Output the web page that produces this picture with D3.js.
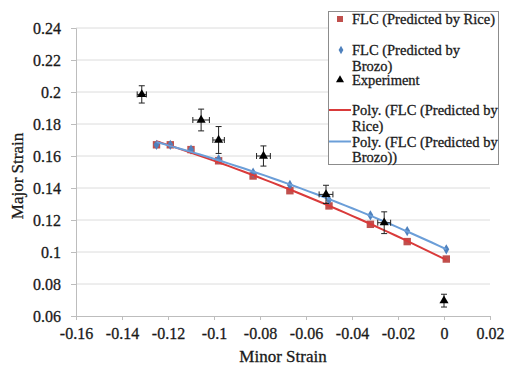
<!DOCTYPE html>
<html>
<head>
<meta charset="utf-8">
<script src="https://cdn.jsdelivr.net/npm/d3@7"></script>
<style>
  body { margin: 0; background: #fff; }
  svg text { font-family: "Liberation Serif", "Times New Roman", serif; fill: #1a1a1a; stroke: #1a1a1a; stroke-width: 0.3px; }
</style>
</head>
<body>
<div id="chart"></div>
<script>
// minor strain positions shared by both predicted curves
const flcMinor = [-0.125, -0.119, -0.110, -0.098, -0.083, -0.067, -0.050, -0.032, -0.016, 0.001];
const riceMajor = [0.167, 0.167, 0.164, 0.157, 0.1475, 0.1383, 0.1288, 0.1173, 0.1065, 0.0956];
const brozMajor = [0.167, 0.167, 0.164, 0.158, 0.1496, 0.1419, 0.1325, 0.1229, 0.1131, 0.1017];

// experiment with error bars
const expMinor = [-0.1314, -0.1056, -0.098, -0.0785, -0.0513, -0.026, 0.0];
const expMajor = [0.1985, 0.1825, 0.170, 0.160, 0.136, 0.1183, 0.0696];
const expMinorErr = [0.002, 0.0036, 0.0025, 0.003, 0.003, 0.0028, 0];
const expMajorErr = [0.0054, 0.0068, 0.0084, 0.0063, 0.0057, 0.0068, 0.004];

const xTicks = [-0.16, -0.14, -0.12, -0.1, -0.08, -0.06, -0.04, -0.02, 0, 0.02];
const yTicks = [0.06, 0.08, 0.1, 0.12, 0.14, 0.16, 0.18, 0.2, 0.22, 0.24];

const W = 507, H = 365;
const plot = {left: 76, right: 490, top: 28, bottom: 316};

const svg = d3.select("#chart").append("svg")
  .attr("width", W).attr("height", H);

const x = d3.scaleLinear().domain([-0.16, 0.02]).range([plot.left, plot.right]);
const y = d3.scaleLinear().domain([0.06, 0.24]).range([plot.bottom, plot.top]);

const fmt = d => d === 0 ? "0" : String(+d.toFixed(2));

// gridlines
svg.append("g").selectAll("line")
  .data(yTicks.filter(d => d > 0.06))
  .enter().append("line")
  .attr("x1", plot.left).attr("x2", plot.right)
  .attr("y1", d => y(d)).attr("y2", d => y(d))
  .attr("stroke", "#dcdcdc").attr("stroke-width", 1);

// axes
const xAxis = svg.append("g")
  .attr("transform", "translate(0," + plot.bottom + ")")
  .call(d3.axisBottom(x).tickValues(xTicks).tickFormat(fmt).tickSize(4).tickPadding(8));
const yAxis = svg.append("g")
  .attr("transform", "translate(" + plot.left + ",0)")
  .call(d3.axisLeft(y).tickValues(yTicks).tickFormat(fmt).tickSize(5).tickPadding(10));

[xAxis, yAxis].forEach(a => {
  a.attr("font-family", null).attr("font-size", null);
  a.select(".domain").attr("stroke", "#bdbdbd");
  a.selectAll(".tick line").attr("stroke", "#bdbdbd");
  a.selectAll(".tick text")
    .style("font-size", "16px")
    .attr("fill", "#1a1a1a");
});

// axis titles
svg.append("text")
  .attr("x", 283).attr("y", 362)
  .attr("text-anchor", "middle")
  .style("font-size", "17px")
  .text("Minor Strain");
svg.append("text")
  .attr("transform", "translate(23,176) rotate(-90)")
  .attr("text-anchor", "middle")
  .style("font-size", "17px")
  .text("Major Strain");

// quadratic least squares trendline (Excel "Poly." order 2)
function polyFit(xs, ys) {
  let s = [0, 0, 0, 0, 0], t = [0, 0, 0];
  xs.forEach((xv, i) => {
    for (let k = 0; k < 5; k++) s[k] += Math.pow(xv, k);
    for (let k = 0; k < 3; k++) t[k] += ys[i] * Math.pow(xv, k);
  });
  const A = [[s[0], s[1], s[2], t[0]], [s[1], s[2], s[3], t[1]], [s[2], s[3], s[4], t[2]]];
  for (let i = 0; i < 3; i++) {
    for (let j = i + 1; j < 3; j++) {
      const f = A[j][i] / A[i][i];
      for (let k = i; k < 4; k++) A[j][k] -= f * A[i][k];
    }
  }
  const c = [0, 0, 0];
  for (let i = 2; i >= 0; i--) {
    let v = A[i][3];
    for (let k = i + 1; k < 3; k++) v -= A[i][k] * c[k];
    c[i] = v / A[i][i];
  }
  return xv => c[0] + c[1] * xv + c[2] * xv * xv;
}

function trend(xs, ys) {
  const f = polyFit(xs, ys);
  const lo = d3.min(xs), hi = d3.max(xs);
  return d3.range(0, 41).map(i => {
    const xv = lo + (hi - lo) * i / 40;
    return [xv, f(xv)];
  });
}

const line = d3.line().x(d => x(d[0])).y(d => y(d[1]));

const riceColor = "#c0504d", brozColor = "#4f81bd";
const riceLine = "#d93a3a", brozLine = "#6b9ed8";

// markers
svg.append("g").selectAll("rect")
  .data(flcMinor.map((d, i) => [d, riceMajor[i]]))
  .enter().append("rect")
  .attr("x", d => x(d[0]) - 3.7).attr("y", d => y(d[1]) - 3.7)
  .attr("width", 7.4).attr("height", 7.4)
  .attr("fill", riceColor);

const diamond = d3.symbol().type(d3.symbolDiamond).size(30);
svg.append("g").selectAll("path")
  .data(flcMinor.map((d, i) => [d, brozMajor[i]]))
  .enter().append("path")
  .attr("d", diamond)
  .attr("transform", d => "translate(" + x(d[0]) + "," + y(d[1]) + ")")
  .attr("fill", brozColor);

// trendlines
svg.append("path").datum(trend(flcMinor, riceMajor))
  .attr("d", line).attr("fill", "none")
  .attr("stroke", riceLine).attr("stroke-width", 2);
svg.append("path").datum(trend(flcMinor, brozMajor))
  .attr("d", line).attr("fill", "none")
  .attr("stroke", brozLine).attr("stroke-width", 2);

// experiment error bars
const expData = expMinor.map((d, i) => ({
  x: d, y: expMajor[i], ex: expMinorErr[i], ey: expMajorErr[i]
}));
const eb = svg.append("g").attr("stroke", "#222").attr("stroke-width", 1);
expData.forEach(d => {
  const cx = x(d.x), cy = y(d.y);
  eb.append("line").attr("x1", cx).attr("x2", cx)
    .attr("y1", y(d.y - d.ey)).attr("y2", y(d.y + d.ey));
  [d.y - d.ey, d.y + d.ey].forEach(v => {
    eb.append("line").attr("x1", cx - 3).attr("x2", cx + 3)
      .attr("y1", y(v)).attr("y2", y(v));
  });
  if (d.ex > 0) {
    eb.append("line").attr("y1", cy).attr("y2", cy)
      .attr("x1", x(d.x - d.ex)).attr("x2", x(d.x + d.ex));
    [d.x - d.ex, d.x + d.ex].forEach(v => {
      eb.append("line").attr("y1", cy - 3).attr("y2", cy + 3)
        .attr("x1", x(v)).attr("x2", x(v));
    });
  }
});

const tri = d3.symbol().type(d3.symbolTriangle).size(36);
svg.append("g").selectAll("path")
  .data(expData)
  .enter().append("path")
  .attr("d", tri)
  .attr("transform", d => "translate(" + x(d.x) + "," + y(d.y) + ")")
  .attr("fill", "#000");

// legend
const lg = svg.append("g");
lg.append("rect")
  .attr("x", 328.5).attr("y", 11.5).attr("width", 170).attr("height", 153)
  .attr("fill", "#fff").attr("stroke", "#8c8c8c");

const legendItems = [
  {kind: "square", y: 19, lines: ["FLC (Predicted by Rice)"]},
  {kind: "diamond", y: 50, lines: ["FLC (Predicted by", "Brozo)"]},
  {kind: "triangle", y: 80, lines: ["Experiment"]},
  {kind: "redline", y: 110, lines: ["Poly. (FLC (Predicted by", "Rice)"]},
  {kind: "blueline", y: 141.5, lines: ["Poly. (FLC (Predicted by", "Brozo))"]}
];

legendItems.forEach(it => {
  if (it.kind === "square") {
    lg.append("rect").attr("x", 337).attr("y", it.y - 3).attr("width", 6).attr("height", 6)
      .attr("fill", riceColor);
  } else if (it.kind === "diamond") {
    lg.append("path").attr("d", d3.symbol().type(d3.symbolDiamond).size(20))
      .attr("transform", "translate(341," + it.y + ")").attr("fill", brozColor);
  } else if (it.kind === "triangle") {
    lg.append("path").attr("d", d3.symbol().type(d3.symbolTriangle).size(28))
      .attr("transform", "translate(340," + it.y + ")").attr("fill", "#000");
  } else {
    lg.append("line").attr("x1", 329).attr("x2", 351)
      .attr("y1", it.y).attr("y2", it.y)
      .attr("stroke", it.kind === "redline" ? riceLine : brozLine)
      .attr("stroke-width", 2);
  }
  it.lines.forEach((t, k) => {
    lg.append("text")
      .attr("x", 352).attr("y", it.y + k * 15.5)
      .attr("dy", "0.35em")
      .style("font-size", "14.5px")
      .text(t);
  });
});
</script>
</body>
</html>
